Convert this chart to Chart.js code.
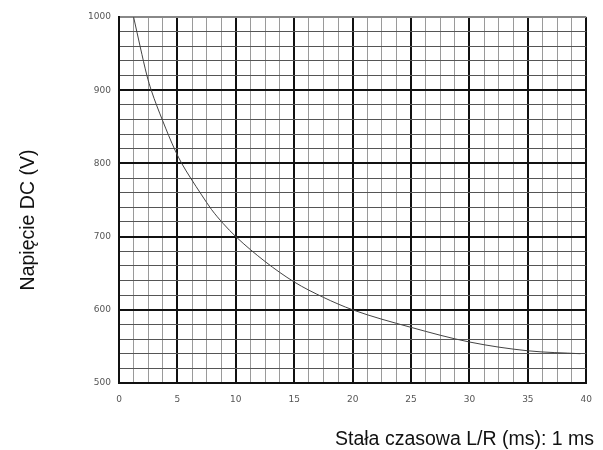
<!DOCTYPE html>
<html>
<head>
<meta charset="utf-8">
<script src="https://cdn.jsdelivr.net/npm/chart.js@4.4.0/dist/chart.umd.min.js"></script>
<style>
  html, body { margin: 0; padding: 0; background: #fff; }
  #voltageChart { display: block; }
</style>
</head>
<body>
<canvas id="voltageChart" width="603" height="450"></canvas>
<script>
// Curve (time constant in ms -> DC voltage)
const timeConstant = [1.25, 1.82, 2.39, 2.76, 3.72, 4.8, 5.37, 6.13, 7.07, 7.92, 8.91, 10, 12.5, 15, 17.5, 20, 25, 30, 35, 39.5];
const dcVoltage = [1000, 959, 920, 900, 859, 818, 800, 780, 757, 737, 718, 700, 666, 638, 617, 600, 576, 556, 544, 540];

const xTitle = "Stała czasowa L/R (ms): 1 ms";
const yTitle = "Napięcie DC (V)";

// Check whether a tick value sits on a major grid step
const onStep = (v, step) => Math.abs(v / step - Math.round(v / step)) < 1e-6;

// Draws both axis titles at fixed spots, like the reference
const axisTitles = {
  id: "axisTitles",
  afterDraw: (chart) => {
    const { ctx } = chart;
    ctx.save();
    ctx.fillStyle = "#111";
    ctx.font = "19.5px 'Liberation Sans', Arial, sans-serif";
    ctx.textBaseline = "alphabetic";

    ctx.textAlign = "right";
    ctx.fillText(xTitle, 594, 445);

    ctx.translate(34, 220);
    ctx.rotate(-Math.PI / 2);
    ctx.textAlign = "center";
    ctx.fillText(yTitle, 0, 0);
    ctx.restore();
  },
};

const ctx = document.getElementById("voltageChart").getContext("2d");

new Chart(ctx, {
  type: "line",
  data: {
    datasets: [
      {
        data: timeConstant.map((t, i) => ({ x: t, y: dcVoltage[i] })),
        borderColor: "#444",
        borderWidth: 1,
        pointRadius: 0,
        cubicInterpolationMode: "monotone",
        fill: false,
      },
    ],
  },
  options: {
    responsive: false,
    animation: false,
    layout: { padding: { top: 17, right: 15, left: 0, bottom: 0 } },
    plugins: {
      legend: { display: false },
      tooltip: { enabled: false },
    },
    scales: {
      x: {
        type: "linear",
        min: 0,
        max: 40,
        afterFit: (scale) => { scale.height = 67; },
        border: { display: true, color: "#111", width: 2 },
        grid: {
          drawTicks: false,
          color: (c) => (onStep(c.tick.value, 5) ? "#111" : "#9a9a9a"),
          lineWidth: (c) => (onStep(c.tick.value, 5) ? 2 : 1),
        },
        ticks: {
          stepSize: 1.25,
          autoSkip: false,
          maxRotation: 0,
          padding: 11,
          color: "#555",
          font: { family: "'DejaVu Sans', sans-serif", size: 9 },
          callback: (v) => (onStep(v, 5) ? v : ""),
        },
      },
      y: {
        type: "linear",
        min: 500,
        max: 1000,
        afterFit: (scale) => { scale.width = 119; },
        border: { display: true, color: "#111", width: 2 },
        grid: {
          drawTicks: false,
          color: (c) => {
            if (c.tick.value === 1000) return "#888";
            return onStep(c.tick.value, 100) ? "#111" : "#555";
          },
          lineWidth: (c) => (onStep(c.tick.value, 100) ? 2 : 1),
        },
        ticks: {
          stepSize: 20,
          autoSkip: false,
          padding: 8,
          color: "#555",
          font: { family: "'DejaVu Sans', sans-serif", size: 9 },
          callback: (v) => (onStep(v, 100) ? v : ""),
        },
      },
    },
  },
  plugins: [axisTitles],
});
</script>
</body>
</html>
